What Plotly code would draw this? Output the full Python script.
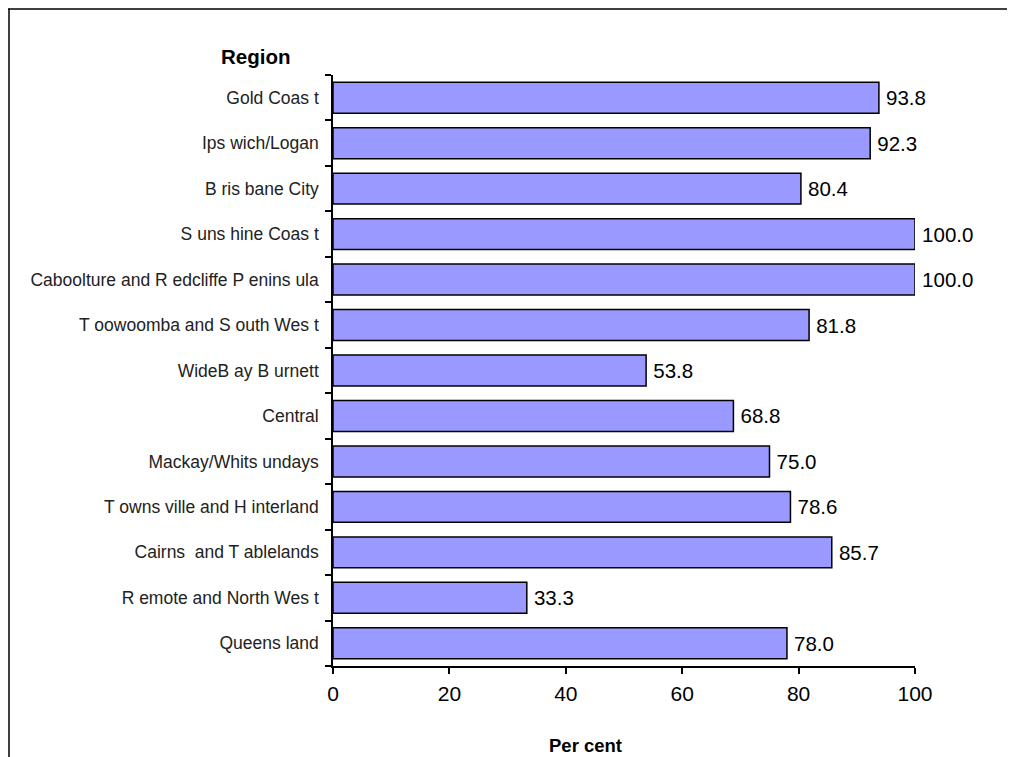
import plotly.graph_objects as go

regions = [
    "Gold Coas t", "Ips wich/Logan", "B ris bane City", "S uns hine Coas t",
    "Caboolture and R edcliffe P enins ula", "T oowoomba and S outh Wes t",
    "WideB ay B urnett", "Central", "Mackay/Whits undays",
    "T owns ville and H interland", "Cairns  and T ablelands",
    "R emote and North Wes t", "Queens land",
]
values = [93.8, 92.3, 80.4, 100.0, 100.0, 81.8, 53.8, 68.8, 75.0, 78.6, 85.7, 33.3, 78.0]
x_ticks = [0, 20, 40, 60, 80, 100]

OFF = 8  # page body margin
W, H = 1015, 757
L, T = 333 - OFF, 75 - OFF
pw, ph = 582, 591
R, B = W - L - pw, H - T - ph


def px(x):
    return (x - OFF - L) / pw


def py(y):
    return (T + ph - (y - OFF)) / ph


fig = go.Figure(go.Bar(
    y=regions, x=values, orientation="h",
    marker=dict(color="#9999FF", line=dict(color="black", width=1.5)),
    text=[f"\u2009{v:.1f}" for v in values], textposition="outside",
    textfont=dict(family="Liberation Sans, Arial", size=20.5, color="black"),
    cliponaxis=False,
))

fig.update_layout(
    width=W, height=H, margin=dict(l=L, r=R, t=T, b=B),
    paper_bgcolor="white", plot_bgcolor="white", showlegend=False,
    bargap=0.32,
    font=dict(family="Liberation Sans, Arial", color="black"),
    xaxis=dict(range=[0, 100], tickvals=x_ticks, showgrid=False, zeroline=False,
               showline=True, linecolor="black", linewidth=1.5,
               ticks="outside", ticklen=6, tickcolor="black", tickwidth=1.5,
               tickfont=dict(size=21), ticklabelstandoff=2, fixedrange=True),
    yaxis=dict(categoryorder="array", categoryarray=regions[::-1],
               range=[-0.5, len(regions) - 0.5], showgrid=False, zeroline=False,
               showline=True, linecolor="black", linewidth=1.5,
               ticks="outside", ticklen=6, tickcolor="black", tickwidth=1.5,
               tickson="boundaries", ticklabelstandoff=9,
               tickfont=dict(size=17.5, color="#222222")),
    annotations=[
        dict(text="<b>Region</b>", x=px(255), y=py(57),
             xref="paper", yref="paper", showarrow=False, font=dict(size=20.5),
             xanchor="center", yanchor="middle"),
        dict(text="<b>Per cent</b>", x=px(585), y=py(745),
             xref="paper", yref="paper", showarrow=False, font=dict(size=18.5),
             xanchor="center", yanchor="middle"),
    ],
    shapes=[
        dict(type="line", xref="paper", yref="paper",
             x0=px(8), x1=px(W + 20),
             y0=py(9), y1=py(9),
             line=dict(color="black", width=1.5)),
        dict(type="line", xref="paper", yref="paper",
             x0=px(9), x1=px(9),
             y0=py(9), y1=py(H + 20),
             line=dict(color="black", width=1.5)),
    ],
)

fig.write_html("out.html")
